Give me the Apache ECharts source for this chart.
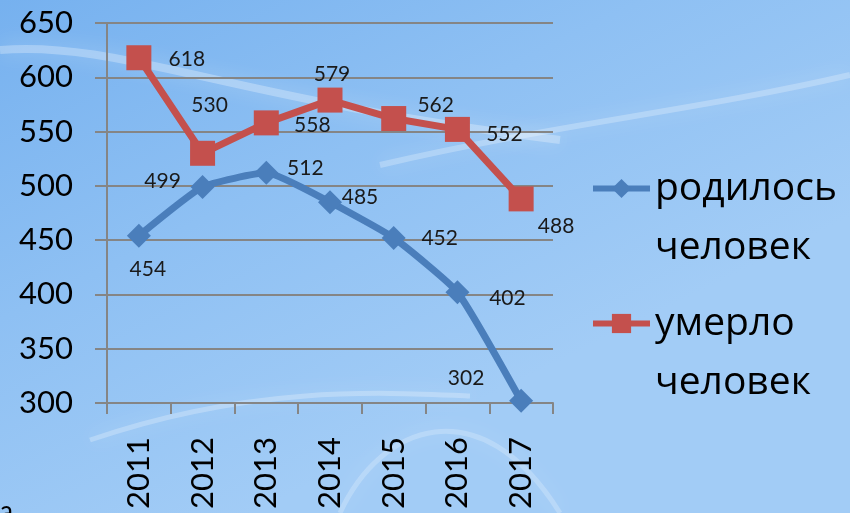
<!DOCTYPE html>
<html lang="ru">
<head>
    <meta charset="utf-8">
    <title>Родилось и умерло человек, 2011-2017</title>
    <script src="https://cdn.jsdelivr.net/npm/echarts@6.0.0/dist/echarts.min.js"></script>
    <style>
        html, body { margin: 0; padding: 0; }
        #main { width: 850px; height: 513px; }
    </style>
</head>
<body>
<div id="main"></div>
<script type="text/javascript">
    // данные
    var years = ['2011', '2012', '2013', '2014', '2015', '2016', '2017'];
    var born = [454, 499, 512, 485, 452, 402, 302];
    var died = [618, 530, 558, 579, 562, 552, 488];
    var yTicks = [300, 350, 400, 450, 500, 550, 600, 650];
    var bornName = 'родилось человек';
    var diedName = 'умерло человек';

    // смещения подписей относительно точки (как на картинке)
    var bornLabelOffset = [[9, 33], [-40, -6], [39, -5], [30, -5], [46, 0], [50, 6], [-55, -23]];
    var diedLabelOffset = [[48, 1], [7, -48], [46, 2], [2, -26], [42, -13], [47, 5], [35, 27]];

    var font = 'Lato, "Open Sans", sans-serif';

    function withLabels(values, offsets) {
        return values.map(function (v, i) {
            return {
                value: v,
                label: { offset: offsets[i] }
            };
        });
    }

    var myChart = echarts.init(document.getElementById('main'));

    // легенда: первая строка на уровне значка, вторая ниже
    function legendItem(name, top) {
        return {
            data: [name],
            orient: 'vertical',
            left: 590,
            top: top,
            padding: 0,
            itemWidth: 57,
            itemHeight: 24,
            lineStyle: { width: 6 },
            formatter: function (n) { return '\n' + n.replace(' ', '\n'); },
            textStyle: {
                fontFamily: '"Open Sans", sans-serif',
                fontSize: 39,
                color: '#000',
                lineHeight: 59
            }
        };
    }

    function streak(x1, y1, cx1, cy1, cx2, cy2, x2, y2, w, a) {
        return {
            type: 'bezierCurve', z: -100, silent: true,
            shape: { x1: x1, y1: y1, cpx1: cx1, cpy1: cy1, cpx2: cx2, cpy2: cy2, x2: x2, y2: y2 },
            style: {
                stroke: 'rgba(255,255,255,' + a + ')', lineWidth: w,
                shadowBlur: 20, shadowColor: 'rgba(255,255,255,0.9)', fill: null
            }
        };
    }

    var option = {
        backgroundColor: {
            type: 'linear', x: 0, y: 0, x2: 0.3, y2: 1,
            colorStops: [
                { offset: 0, color: '#76b1ef' },
                { offset: 0.5, color: '#8ec0f3' },
                { offset: 1, color: '#a2ccf6' }
            ]
        },
        animation: false,
        graphic: [
            // белые полосы облаков на фоне
            streak(0, 50, 120, 40, 230, 100, 560, 140, 8, 0.28),
            streak(380, 165, 550, 125, 700, 110, 850, 75, 6, 0.25),
            streak(90, 440, 250, 385, 380, 392, 470, 396, 5, 0.25),
            streak(340, 513, 380, 425, 480, 385, 560, 513, 5, 0.22),
            {
                type: 'text', left: 0, top: 499, silent: true,
                style: { text: 'а', fontFamily: font, fontSize: 26, fill: '#000' }
            }
        ],
        grid: {
            left: 107,
            right: 297,
            top: 23,
            bottom: 110
        },
        legend: [
            legendItem(bornName, 100),
            legendItem(diedName, 235)
        ],
        xAxis: {
            type: 'category',
            data: years,
            boundaryGap: true,
            axisLine: { lineStyle: { color: '#858585', width: 2 } },
            axisTick: { show: true, length: 11, lineStyle: { color: '#858585', width: 2 } },
            axisLabel: {
                rotate: 90,
                margin: 34,
                fontFamily: font,
                fontSize: 31,
                color: '#000'
            }
        },
        yAxis: {
            type: 'value',
            min: yTicks[0],
            max: yTicks[yTicks.length - 1],
            interval: 50,
            axisLine: { show: true, lineStyle: { color: '#858585', width: 2 } },
            axisTick: { show: true, length: 12, lineStyle: { color: '#858585', width: 2 } },
            splitLine: { lineStyle: { color: '#858585', width: 2 } },
            axisLabel: {
                margin: 34,
                fontFamily: font,
                fontSize: 31,
                color: '#000'
            }
        },
        series: [
            {
                name: bornName,
                type: 'line',
                smooth: 0.15,
                data: withLabels(born, bornLabelOffset),
                symbol: 'diamond',
                symbolSize: 24,
                color: '#4a7ebb',
                lineStyle: { width: 7, color: '#4a7ebb' },
                itemStyle: { color: '#4a7ebb' },
                label: {
                    show: true,
                    position: 'inside',
                    fontFamily: font,
                    fontSize: 21,
                    color: '#1a1a1a'
                },
                z: 3
            },
            {
                name: diedName,
                type: 'line',
                data: withLabels(died, diedLabelOffset),
                symbol: 'rect',
                symbolSize: 25,
                color: '#c4504d',
                lineStyle: { width: 7, color: '#c4504d' },
                itemStyle: { color: '#c4504d' },
                label: {
                    show: true,
                    position: 'inside',
                    fontFamily: font,
                    fontSize: 21,
                    color: '#1a1a1a'
                },
                z: 4
            }
        ]
    };

    myChart.setOption(option);
</script>
</body>
</html>
